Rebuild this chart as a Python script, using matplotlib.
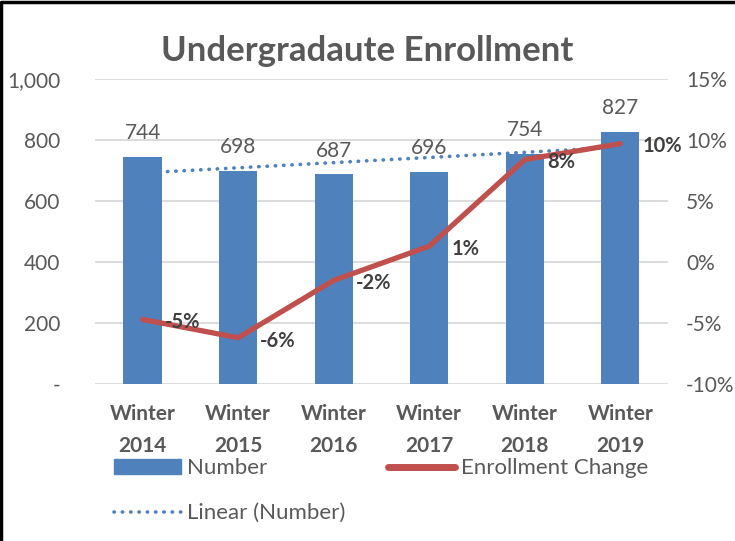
import numpy as np
import matplotlib.pyplot as plt
from matplotlib.patches import Patch
from matplotlib.lines import Line2D
from matplotlib.ticker import FuncFormatter

categories = ["Winter\n2014", "Winter\n2015", "Winter\n2016", "Winter\n2017", "Winter\n2018", "Winter\n2019"]
number = [744, 698, 687, 696, 754, 827]
change = [-4.7, -6.2, -1.5, 1.3, 8.4, 9.7]

BLUE = "#4F81BD"
RED = "#C0504D"
GREY = "#595959"
GRID = "#D9D9D9"
DOTS = (0, (0.1, 2.2))

plt.rcParams['font.family'] = ['Lato', 'DejaVu Sans']

fig = plt.figure(figsize=(7.35, 5.41), dpi=100)
ax = fig.add_axes([0.129, 0.29, 0.78, 0.564])
ax2 = ax.twinx()

x = np.arange(len(categories))
ax.bar(x, number, width=0.4, color=BLUE, zorder=2)
for xi, v in zip(x, number):
    ax.text(xi, v + 45, str(v), ha='center', va='bottom', fontsize=15, color=GREY)

# linear trendline of the bar series
k, b = np.polyfit(x, number, 1)
ax.plot(x, k * x + b, color=BLUE, ls=DOTS, lw=2.6, dash_capstyle='round', zorder=3)

ax.set_ylim(0, 1000)
ax.set_yticks(range(0, 1001, 200))
ax.yaxis.set_major_formatter(FuncFormatter(lambda v, p: '-' if v == 0 else f"{int(v):,}"))
ax.set_xlim(-0.5, len(categories) - 0.5)
ax.set_xticks(x)
ax.set_xticklabels(categories, fontsize=15, fontweight='bold', color=GREY, linespacing=1.75)
ax.grid(axis='y', color=GRID, lw=1.3, zorder=0)
ax.set_axisbelow(True)

ax2.plot(x, change, color=RED, lw=3.8, solid_capstyle='round', zorder=4)
ax2.set_ylim(-10, 15)
ax2.set_yticks(range(-10, 16, 5))
ax2.yaxis.set_major_formatter(FuncFormatter(lambda v, p: f"{int(v)}%"))
for xi, v in zip(x, change):
    ax2.annotate(f"{v:.0f}%", (xi, v), xytext=(16, -2), textcoords='offset points',
                 ha='left', va='center', fontsize=14.5, fontweight='bold', color='#404040', zorder=5)

for a in (ax, ax2):
    for s in a.spines.values():
        s.set_visible(False)
    a.tick_params(length=0, labelsize=15, colors=GREY)
ax.tick_params(axis='y', pad=25)
ax2.tick_params(axis='y', pad=13)
ax.tick_params(axis='x', pad=14)

fig.text(0.5, 0.905, "Undergradaute Enrollment", ha='center', va='center',
         fontsize=25, fontweight='bold', color=GREY)

handles = [Patch(color=BLUE), Line2D([], [], color=BLUE, ls=DOTS, lw=2.6, dash_capstyle='round'),
           Line2D([], [], color=RED, lw=5, solid_capstyle='round')]
labels = ["Number", "Linear (Number)", "Enrollment Change"]
fig.legend(handles, labels, ncol=2, loc='upper left', bbox_to_anchor=(0.143, 0.169),
           frameon=False, fontsize=16, labelcolor=GREY, handlelength=3.0,
           handletextpad=0.27, columnspacing=1.95, labelspacing=1.12, borderaxespad=0)

# left and top edges of the chart frame
fig.add_artist(Line2D([0.002, 0.002, 1.0], [0.0, 0.997, 0.997], transform=fig.transFigure,
                      color='black', lw=2.5))

fig.savefig("out.png", dpi=100)
